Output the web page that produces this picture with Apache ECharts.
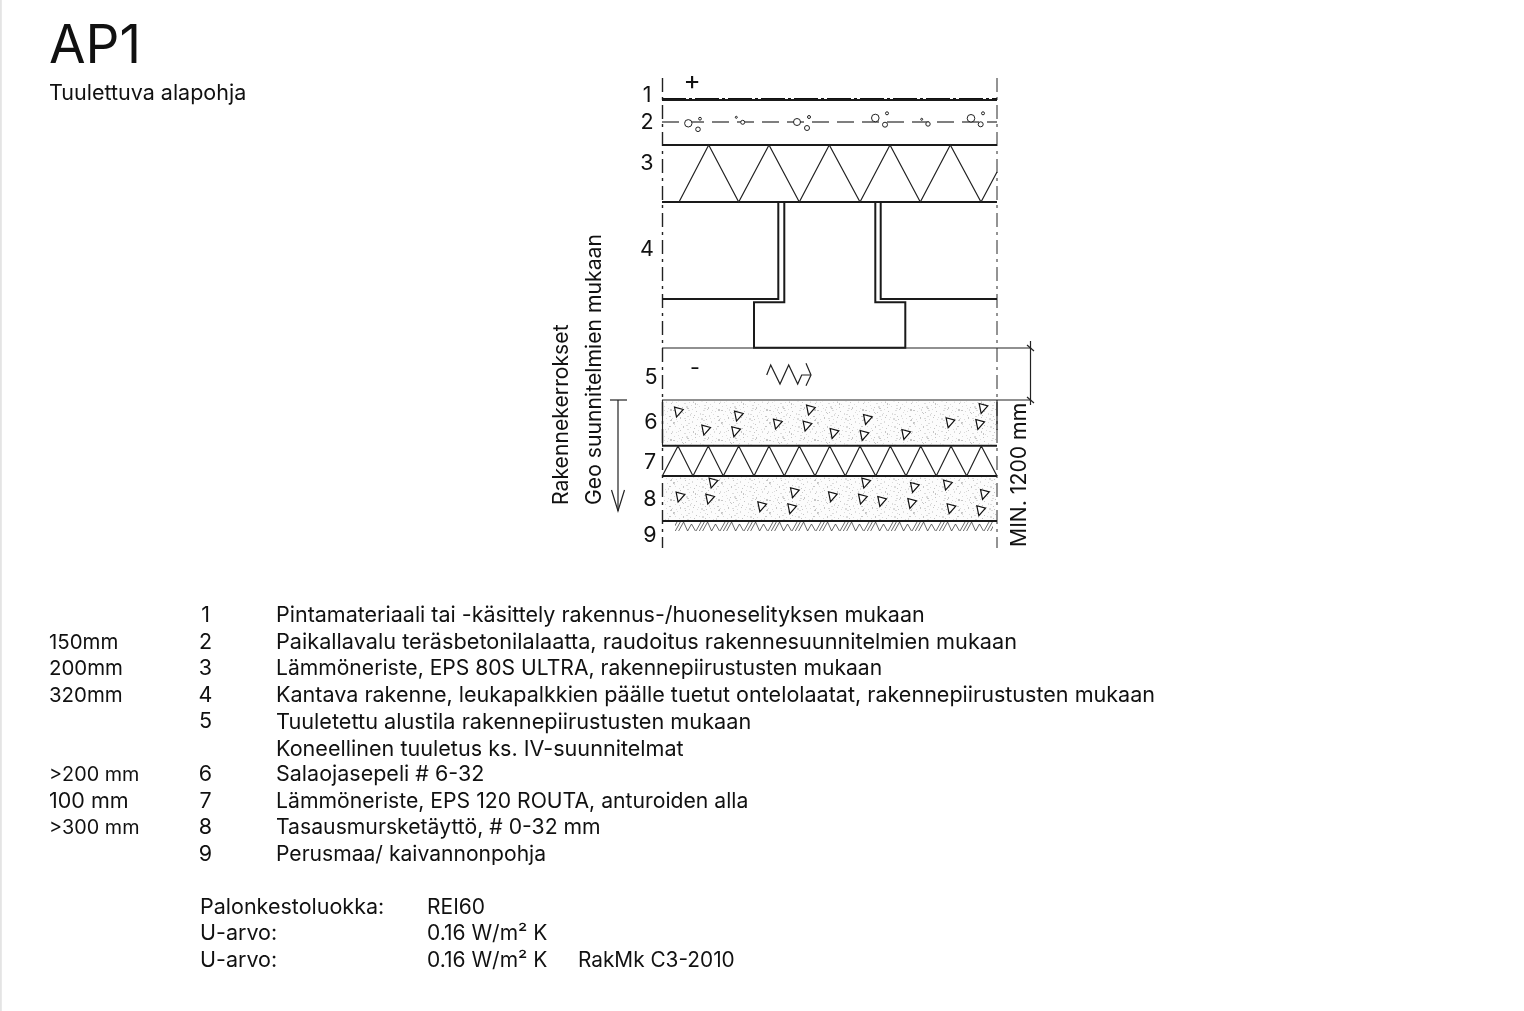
<!DOCTYPE html>
<html><head><meta charset="utf-8">
<style>html,body{margin:0;padding:0;background:#fff}#c{width:1524px;height:1011px}</style>
<script src="https://cdn.jsdelivr.net/npm/echarts@6/dist/echarts.min.js"></script>
</head><body><div id="c"></div>
<script>
const FONT = 'Inter';
const titleText = 'AP1';
const subtitleText = 'Tuulettuva alapohja';
const rowNumbers = ['1','2','3','4','5','','6','7','8','9'];
const rowThickness = ['','150mm','200mm','320mm','','','>200 mm','100 mm','>300 mm',''];
const rowDescriptions = [
 'Pintamateriaali tai -käsittely rakennus-/huoneselityksen mukaan',
 'Paikallavalu teräsbetonilalaatta, raudoitus rakennesuunnitelmien mukaan',
 'Lämmöneriste, EPS 80S ULTRA, rakennepiirustusten mukaan',
 'Kantava rakenne, leukapalkkien päälle tuetut ontelolaatat, rakennepiirustusten mukaan',
 'Tuuletettu alustila rakennepiirustusten mukaan',
 'Koneellinen tuuletus ks. IV-suunnitelmat',
 'Salaojasepeli # 6-32',
 'Lämmöneriste, EPS 120 ROUTA, anturoiden alla',
 'Tasausmursketäyttö, # 0-32 mm',
 'Perusmaa/ kaivannonpohja'];
const rowLevels = [616,642.5,669,695.5,722,749,775,802,828,855];
const descSizes = [21.5,21.7,21.1,21.55,21.7,21.6,21.5,21.2,21.2,21.1];
const thickSizes = [20.4,20.4,20.4,20.4,20.4,20.4,19.8,21.5,19.8,20.4];
const propertyNames = ['Palonkestoluokka:','U-arvo:','U-arvo:'];
const propertyValues = ['REI60','0.16 W/m² K','0.16 W/m² K'];
const propertyLevels = [908,934,961];
const layerNumbers = [['1',647,96],['2',647,123],['3',647,164],['4',647,249.5],['5',651,377.5],['6',651,422.5],['7',650,463],['8',650,500],['9',650,536]];
const signMarks = [['+',692,81],['-',695,369]];
const sideNotes = [['Rakennekerrokset',562,505],['Geo suunnitelmien mukaan',595,505],['MIN. 1200 mm',1019.5,547]];

const thickLines = [
 [[662,100],[997,100]],
 [[662,145],[997,145]], [[662,202],[997,202]],
 [[662,299],[778.3,299],[778.3,202]],
 [[784.3,202],[784.3,302.3],[754,302.3],[754,347.7],[905.3,347.7],[905.3,302.3],[875.3,302.3],[875.3,202]],
 [[880.7,202],[880.7,299],[997,299]],
 [[662,445.7],[997,445.7]], [[662,476],[997,476]], [[662,521],[997,521]]
];
const thinLines = [
 [[662,348],[1031,348]], [[662,400],[1031,400]],
 [[662.5,400],[662.5,445]], [[997,400],[997,430]],
 [[679,202],[708.7,145],[738.7,202],[769,145],[799.3,202],[829.3,145],[860,202],[890,145],[920.3,202],[950.3,145],[981,202],[997,172]],
 [[662.3,476],[678,446],[693,476],[708.3,446],[723.3,476],[738.7,446],[754,476],[769,446],[784.3,476],[799.3,446],[815,476],[829.7,446],[845.3,476],[860,446],[875.7,476],[890.3,446],[906,476],[920.7,446],[936.3,476],[951,446],[966.7,476],[981.3,446],[997,476]],
 [[766.7,375],[770.7,365],[780,384],[788.7,365],[797.7,384],[801.7,375],[811,375]],
 [[806,363.3],[811,375],[806,385.7]],
 [[1030.5,341],[1030.5,405]], [[1027,345],[1034,351]], [[1027,397],[1034,403]],
 [[618,400],[618,511]], [[610,400],[627,400]], [[611.5,490],[618,511],[624.5,490]]
];
const floorLine = [[662,98.8],[997,98.8]];
const slabLine = [[662,122],[997,122]];
const edgeLines = [[[662.5,78],[662.5,548]],[[997,78],[997,548]]];
const pageEdge = [[0.8,0],[0.8,1011]];
const gravelBands = [[664,401.5,996,444.5],[664,477.5,996,520]];
const groundBands = [[675,522,993,531]];
const rebar = [[688.3,123.3,3.7],[698,129.3,2.3],[700,118.7,1.4],[736.3,117.3,1],[742.7,122.3,2],[797,122,3.5],[807,128,2.5],[809,117,1.5],[875.3,118,3.8],[885,124.7,2.5],[887,113.3,1.5],[921.7,119.3,1],[928,124,2.2],[971,118.3,3.8],[980.7,124.3,2.5],[983,113.3,1.5]];
const stones = [[677.7,412.7],[737.7,416.7],[705,430.7],[735,432.3],[776.7,424.7],[806.3,426.7],[809.7,410.7],[833.3,434],[866.7,420],[863.3,436],[905,435],[949.3,423.3],[979,425],[982.3,409],
 [712.3,483.7],[679.3,497.7],[709,499.7],[761,507.3],[791,509.3],[793.7,493.3],[831.7,497.3],[865,483.7],[861.7,499.7],[881,502],[911,504],[913.7,488],[946.7,485.7],[983.7,495],[950.3,509.3],[980,511.3]];

// texture tiles (styling only, not data)
const stippleDots = [[1,2],[5,1],[9,4],[13,0],[16,3],[20,1],[24,5],[28,2],[31,0],[35,4],[39,1],[43,3],[46,0],
 [3,6],[7,8],[11,6],[15,9],[18,7],[22,8],[26,10],[30,6],[33,8],[37,7],[41,9],[45,6],
 [0,11],[4,12],[8,10],[12,13],[17,12],[21,11],[25,14],[29,11],[34,12],[38,14],[42,11],[47,13],
 [2,16],[6,15],[10,17],[14,16],[19,15],[23,17],[27,16],[32,15],[36,17],[40,16],[44,18],
 [1,20],[5,21],[9,19],[13,22],[16,20],[20,19],[24,21],[28,23],[31,20],[35,19],[39,22],[43,21],[46,19],
 [3,24],[7,25],[11,23],[15,26],[18,24],[22,25],[26,27],[30,24],[33,26],[37,25],[41,24],[45,26],
 [0,28],[4,29],[8,27],[12,28],[17,29],[21,27],[25,29],[29,28],[34,29],[38,28],[42,28],[47,29],
 [2,3],[6,11],[10,22],[14,5],[19,23],[23,13],[27,6],[32,18],[36,10],[40,20],[44,8],[15,18],[33,3],[7,18]];
function stipple(){const c=document.createElement('canvas');c.width=48;c.height=30;const g=c.getContext('2d');
 g.fillStyle='#fcfcfc';g.fillRect(0,0,48,30);
 stippleDots.forEach((d,i)=>{g.fillStyle=i%3?'#dcdcdc':'#c6c6c6';g.fillRect(d[0],d[1],i%4?1:2,i%5?1:2);});return c;}
function hatch(){const c=document.createElement('canvas');c.width=24;c.height=9;const g=c.getContext('2d');
 g.strokeStyle='#444';g.lineWidth=0.8;g.beginPath();
 [[0,9,5,0],[3.3,9,8.3,0],[6.6,9,11.6,0],[11.6,0,15.6,9],[15.6,9,19.5,2],[19.5,2,23.5,9]].forEach(s=>{g.moveTo(s[0],s[1]);g.lineTo(s[2],s[3]);});
 g.stroke();return c;}

const silentBase = {silent:true,animation:false};
function lineSeries(pts,width,color,type,z){return Object.assign({type:'line',data:pts,showSymbol:false,symbol:'none',z:z||3,
  lineStyle:{width:width,color:color,type:type||'solid',cap:'butt',join:'miter'}},silentBase);}
function bandSeries(rows,fill){return Object.assign({type:'custom',data:rows,z:1,clip:false,
  renderItem:function(p,api){const a=api.coord([api.value(0),api.value(1)]),b=api.coord([api.value(2),api.value(3)]);
   return {type:'rect',shape:{x:a[0],y:a[1],width:b[0]-a[0],height:b[1]-a[1]},style:{fill:fill}};}},silentBase);}
function textSeries(items,opts){return Object.assign({type:'scatter',z:6,symbolSize:1,itemStyle:{color:'transparent',opacity:1},
  data:items.map(t=>{const d={value:[t[1],t[2]],text:t[0]};if(t[3])d.label={fontSize:t[3]};return d;}),
  label:Object.assign({show:true,position:'inside',distance:0,color:'#111',opacity:1,fontFamily:FONT,fontSize:21.5,fontWeight:400,align:'left',verticalAlign:'middle',
   formatter:p=>p.data.text},opts)},silentBase);}
const colText=(arr,x,lv,sizes)=>arr.map((t,i)=>[t,x,lv[i],sizes?sizes[i]:0]).filter(t=>t[0]!=='');

const series=[
 bandSeries(gravelBands,{image:stipple(),repeat:'repeat'}),
 bandSeries(groundBands,{image:hatch(),repeat:'repeat'}),
 lineSeries(pageEdge,2,'#e4e4e4'),
 ...edgeLines.map((l,i)=>lineSeries(l,1.4,i?'#666':'#222',[14,5,3,5],2)),
 lineSeries(slabLine,1.3,'#555',[17,8]),
 lineSeries(floorLine,1.6,'#111',[24,3,3,3]),
 ...thickLines.map(l=>lineSeries(l,2,'#1a1a1a')),
 ...thinLines.map(l=>lineSeries(l,1.2,'#222')),
 Object.assign({type:'scatter',z:5,data:rebar,symbol:'circle',symbolSize:v=>v[2]*2,itemStyle:{color:'#fff',borderColor:'#222',borderWidth:1,opacity:1}},silentBase),
 Object.assign({type:'scatter',z:5,data:stones,symbol:'triangle',symbolSize:9,symbolRotate:165,itemStyle:{color:'#fff',borderColor:'#111',borderWidth:1.2,opacity:1}},silentBase),
 textSeries([[titleText,49,47]],{fontSize:53}),
 textSeries([[subtitleText,49,93.5]],{}),
 textSeries(colText(rowThickness,49,rowLevels,thickSizes),{}),
 textSeries(colText(rowNumbers,205.5,rowLevels),{align:'center'}),
 textSeries(colText(rowDescriptions,276,rowLevels,descSizes),{}),
 textSeries(colText(propertyNames,200,propertyLevels),{}),
 textSeries(colText(propertyValues,427,propertyLevels,[21,21,21]),{}),
 textSeries([['RakMk C3-2010',578,961]],{fontSize:20.8}),
 textSeries(layerNumbers,{align:'center'}),
 textSeries([signMarks[0]],{align:'center',fontSize:26}),
 textSeries([signMarks[1]],{align:'center'}),
 textSeries(sideNotes,{rotate:90,fontSize:21.2})
];
const chart=echarts.init(document.getElementById('c'),null,{renderer:'canvas'});
chart.setOption({animation:false,backgroundColor:'#fff',
 grid:{left:0,right:0,top:0,bottom:0,containLabel:false},
 xAxis:{type:'value',min:0,max:1524,show:false},
 yAxis:{type:'value',min:0,max:1011,inverse:true,show:false},
 tooltip:{show:false},series});
</script></body></html>
